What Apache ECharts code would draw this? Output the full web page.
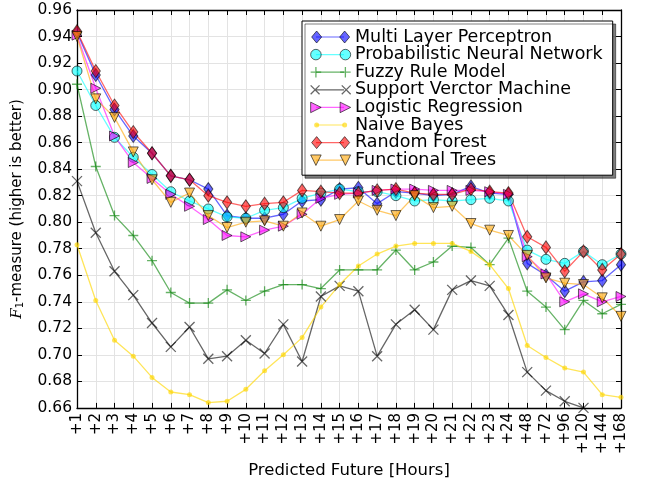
<!DOCTYPE html>
<html>
<head>
<meta charset="utf-8">
<script src="https://cdn.jsdelivr.net/npm/echarts/dist/echarts.min.js"></script>
<style>
  html, body { margin: 0; padding: 0; background: #fff; }
  #chart { width: 645px; height: 484px; }
</style>
</head>
<body>
<div id="chart"></div>
<script>
// categories (prediction horizon)
const categories = ['+1', '+2', '+3', '+4', '+5', '+6', '+7', '+8', '+9', '+10', '+11', '+12',
  '+13', '+14', '+15', '+16', '+17', '+18', '+19', '+20', '+21', '+22', '+23', '+24',
  '+48', '+72', '+96', '+120', '+144', '+168']

// F1 values per model
const mlp = [0.943, 0.911, 0.885, 0.865, 0.852, 0.835, 0.832, 0.825, 0.805, 0.803, 0.803, 0.806,
  0.816, 0.817, 0.825, 0.826, 0.814, 0.823, 0.822, 0.820, 0.821, 0.827, 0.822, 0.821,
  0.769, 0.760, 0.748, 0.755, 0.756, 0.768]
const pnn = [0.914, 0.888, 0.864, 0.849, 0.836, 0.823, 0.816, 0.810, 0.804, 0.803, 0.809, 0.811,
  0.818, 0.822, 0.825, 0.823, 0.823, 0.820, 0.816, 0.817, 0.816, 0.817, 0.818, 0.816,
  0.779, 0.772, 0.769, 0.778, 0.768, 0.776]
const fuzzy = [0.904, 0.842, 0.805, 0.790, 0.771, 0.747, 0.739, 0.739, 0.749, 0.741, 0.748, 0.753,
  0.753, 0.750, 0.764, 0.764, 0.764, 0.779, 0.764, 0.770, 0.782, 0.781, 0.768, 0.788,
  0.748, 0.736, 0.719, 0.741, 0.731, 0.738]
const svm = [0.831, 0.792, 0.763, 0.745, 0.724, 0.706, 0.721, 0.697, 0.699, 0.711, 0.701, 0.723,
  0.695, 0.744, 0.752, 0.748, 0.699, 0.723, 0.734, 0.719, 0.749, 0.756, 0.752, 0.730,
  0.687, 0.673, 0.665, 0.660, 0.655, 0.650]
const logreg = [0.941, 0.901, 0.865, 0.845, 0.833, 0.821, 0.812, 0.802, 0.790, 0.789, 0.794, 0.797,
  0.806, 0.818, 0.821, 0.822, 0.824, 0.825, 0.825, 0.824, 0.824, 0.824, 0.823, 0.821,
  0.774, 0.761, 0.740, 0.746, 0.740, 0.744]
const bayes = [0.783, 0.741, 0.711, 0.699, 0.683, 0.672, 0.670, 0.664, 0.665, 0.674, 0.688, 0.700,
  0.713, 0.736, 0.753, 0.767, 0.776, 0.782, 0.784, 0.784, 0.784, 0.778, 0.768, 0.750,
  0.707, 0.698, 0.690, 0.687, 0.670, 0.668]
const forest = [0.944, 0.914, 0.888, 0.868, 0.852, 0.835, 0.832, 0.820, 0.815, 0.812, 0.814, 0.815,
  0.824, 0.823, 0.822, 0.822, 0.824, 0.825, 0.822, 0.821, 0.821, 0.825, 0.823, 0.822,
  0.789, 0.781, 0.763, 0.778, 0.764, 0.776]
const ftrees = [0.940, 0.893, 0.879, 0.853, 0.832, 0.815, 0.822, 0.805, 0.796, 0.800, 0.801, 0.797,
  0.807, 0.797, 0.802, 0.816, 0.809, 0.805, 0.820, 0.811, 0.812, 0.799, 0.794, 0.790,
  0.775, 0.758, 0.754, 0.753, 0.743, 0.729]

const yMin = 0.66, yMax = 0.96, yStep = 0.02

const FONT = 'DejaVu Sans'
const EDGE = 'rgba(0,0,0,0.6)'

// marker shapes for the plot
const SYM = {
  diamond: { symbol: 'path://M5,0L10,6L5,12L0,6Z', size: [11, 13] },
  circle: { symbol: 'circle', size: 10 },
  plus: { symbol: 'path://M5,0L5,10M0,5L10,5', size: 10 },
  cross: { symbol: 'path://M0,0L10,10M10,0L0,10', size: 10 },
  right: { symbol: 'path://M0,0L10,5L0,10Z', size: 10 },
  dot: { symbol: 'circle', size: 5 },
  down: { symbol: 'path://M0,0L10,0L5,10Z', size: 10 }
}

// legend icons: line part and marker part, drawn in a 40x12 box
const anchorA = 'M0,0L0.01,0L0,0.01Z '
const anchorB = ' M40,12L39.99,12L40,11.99Z'
const LEG_LINE = 'path://' + anchorA + 'M6,5.4L34,5.4L34,6.6L6,6.6Z' + anchorB
const LEG_MARK = {
  diamond: 'path://M6,0L11,6L6,12L1,6Z M34,0L39,6L34,12L29,6Z',
  circle: 'path://M1,6A5,5,0,1,0,11,6A5,5,0,1,0,1,6Z M29,6A5,5,0,1,0,39,6A5,5,0,1,0,29,6Z',
  plus: 'path://M6,1L6,11M1,6L11,6 M34,1L34,11M29,6L39,6',
  cross: 'path://M2,2L10,10M10,2L2,10 M30,2L38,10M38,2L30,10',
  right: 'path://M1,1L11,6L1,11Z M29,1L39,6L29,11Z',
  dot: 'path://' + anchorA + 'M3.5,6A2.5,2.5,0,1,0,8.5,6A2.5,2.5,0,1,0,3.5,6Z M31.5,6A2.5,2.5,0,1,0,36.5,6A2.5,2.5,0,1,0,31.5,6Z' + anchorB,
  down: 'path://M1,1L11,1L6,11Z M29,1L39,1L34,11Z'
}

const models = [
  { name: 'Multi Layer Perceptron', data: mlp, color: 'rgba(0,0,255,0.6)', mark: 'diamond', edge: EDGE },
  { name: 'Probabilistic Neural Network', data: pnn, color: 'rgba(0,255,255,0.6)', mark: 'circle', edge: EDGE },
  { name: 'Fuzzy Rule Model', data: fuzzy, color: 'rgba(0,128,0,0.6)', mark: 'plus', stroke: true },
  { name: 'Support Verctor Machine', data: svm, color: 'rgba(0,0,0,0.6)', mark: 'cross', stroke: true },
  { name: 'Logistic Regression', data: logreg, color: 'rgba(255,0,255,0.6)', mark: 'right', edge: EDGE },
  { name: 'Naive Bayes', data: bayes, color: 'rgba(255,215,0,0.65)', mark: 'dot', edge: null },
  { name: 'Random Forest', data: forest, color: 'rgba(255,0,0,0.6)', mark: 'diamond', edge: EDGE },
  { name: 'Functional Trees', data: ftrees, color: 'rgba(255,165,0,0.6)', mark: 'down', edge: EDGE }
]

const series = models.map(m => ({
  name: m.name,
  type: 'line',
  data: m.data,
  symbol: SYM[m.mark].symbol,
  symbolSize: SYM[m.mark].size,
  symbolKeepAspect: true,
  showAllSymbol: true,
  lineStyle: { color: m.color, width: 1.3 },
  itemStyle: m.stroke
    ? { color: m.color, borderColor: m.color, borderWidth: 1.3 }
    : { color: m.color, borderColor: m.edge || m.color, borderWidth: m.edge ? 1 : 0 },
  emphasis: { disabled: true },
  animation: false
}))

const legendBase = {
  orient: 'vertical',
  left: 302,
  top: 21,
  padding: [7, 10, 6, 8],
  itemWidth: 40,
  itemHeight: 12,
  itemGap: -0.4,
  itemTextGap: 17,
  selectedMode: false,
  textStyle: { fontFamily: FONT, fontSize: 17.5, lineHeight: 17 }
}

const legendLines = Object.assign({}, legendBase, {
  backgroundColor: '#fff',
  borderColor: '#000',
  borderWidth: 1,
  borderRadius: 0,
  shadowColor: 'rgba(0,0,0,0.5)',
  shadowBlur: 0,
  shadowOffsetX: 3,
  shadowOffsetY: 3,
  textStyle: Object.assign({}, legendBase.textStyle, { color: '#000' }),
  data: models.map(m => ({
    name: m.name,
    icon: LEG_LINE,
    itemStyle: { color: m.color, borderWidth: 0 }
  }))
})

const legendMarks = Object.assign({}, legendBase, {
  z: 20,
  backgroundColor: 'transparent',
  borderColor: 'transparent',
  borderWidth: 1,
  textStyle: Object.assign({}, legendBase.textStyle, { color: 'rgba(0,0,0,0)' }),
  data: models.map(m => ({
    name: m.name,
    icon: LEG_MARK[m.mark],
    itemStyle: m.stroke
      ? { color: 'rgba(0,0,0,0)', borderColor: m.color, borderWidth: 1.3 }
      : { color: m.color, borderColor: m.edge || m.color, borderWidth: m.edge ? 1 : 0 }
  }))
})

const tick = { show: true, inside: true, length: 5, lineStyle: { color: '#000', width: 1 } }
const axisLine = { show: true, lineStyle: { color: '#000', width: 1.3 } }

const option = {
  backgroundColor: '#fff',
  animation: false,
  grid: { left: 77, right: 24, top: 10, bottom: 73, containLabel: false },
  legend: [legendLines, legendMarks],
  xAxis: [
    {
      type: 'category',
      data: categories,
      boundaryGap: false,
      position: 'bottom',
      axisLine: axisLine,
      axisTick: Object.assign({}, tick, { alignWithLabel: true, interval: 0 }),
      axisLabel: { interval: 0, rotate: 90, margin: 5, color: '#000', fontFamily: FONT, fontSize: 15 },
      splitLine: { show: true, interval: 0, lineStyle: { color: '#e3e3e3', width: 1 } },
      name: 'Predicted Future [Hours]',
      nameLocation: 'middle',
      nameGap: 54,
      nameTextStyle: { color: '#000', fontFamily: FONT, fontSize: 16.5 }
    },
    {
      type: 'category',
      data: categories,
      boundaryGap: false,
      position: 'top',
      axisLine: axisLine,
      axisTick: Object.assign({}, tick, { interval: 0 }),
      axisLabel: { show: false },
      splitLine: { show: false }
    }
  ],
  yAxis: [
    {
      type: 'value',
      min: yMin,
      max: yMax,
      interval: yStep,
      position: 'left',
      axisLine: axisLine,
      axisTick: tick,
      axisLabel: { margin: 5, color: '#000', fontFamily: FONT, fontSize: 15.5, formatter: v => v.toFixed(2) },
      splitLine: { show: true, lineStyle: { color: '#e3e3e3', width: 1 } },
      name: '{f|F}{s|1}{t|-measure (higher is better)}',
      nameLocation: 'middle',
      nameGap: 52,
      nameTextStyle: {
        color: '#000',
        fontFamily: FONT,
        fontSize: 15,
        rich: {
          f: { fontFamily: 'DejaVu Serif', fontStyle: 'italic', fontSize: 15, color: '#000', verticalAlign: 'bottom', lineHeight: 18 },
          s: { fontFamily: FONT, fontSize: 10, color: '#000', verticalAlign: 'bottom', lineHeight: 14 },
          t: { fontFamily: FONT, fontSize: 15, color: '#000', verticalAlign: 'bottom', lineHeight: 18 }
        }
      }
    },
    {
      type: 'value',
      min: yMin,
      max: yMax,
      interval: yStep,
      position: 'right',
      axisLine: axisLine,
      axisTick: tick,
      axisLabel: { show: false },
      splitLine: { show: false }
    }
  ],
  series: series
}

const chart = echarts.init(document.getElementById('chart'), null, { renderer: 'canvas' })
chart.setOption(option)
window.addEventListener('resize', () => chart.resize())
</script>
</body>
</html>
